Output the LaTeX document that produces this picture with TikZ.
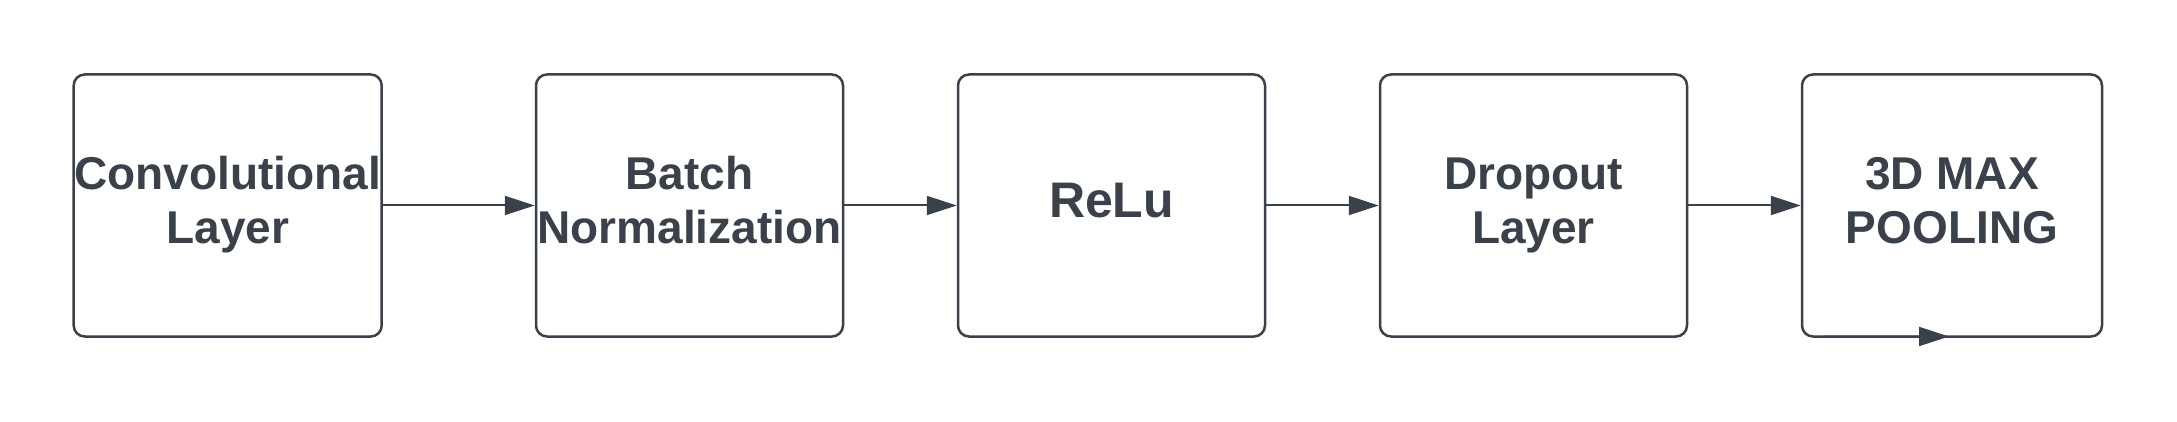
\documentclass[tikz,border=0pt]{standalone}
\usepackage{fontspec}
\setmainfont{Liberation Sans}
\usetikzlibrary{arrows.meta,calc}
\definecolor{ink}{HTML}{3A414A}
\begin{document}
\begin{tikzpicture}[x=1pt,y=-1pt,
  layerbox/.style={draw=ink, line width=2.5pt, rounded corners=11pt, fill=white,
    minimum height=262pt, inner sep=0pt, align=center, text=ink,
    font=\fontsize{46}{54}\selectfont\bfseries},
  flow/.style={draw=ink, line width=2pt, -{Triangle[length=30pt,width=19pt]}}]
\useasboundingbox (0,0) rectangle (2177,422);
\fill[white] (0,0) rectangle (2177,422);
\node[layerbox, minimum width=308pt] (b1) at (227.7,205.5) {\strut Convolutional\\\strut Layer};
\node[layerbox, minimum width=307pt] (b2) at (689.5,205.5) {\strut Batch\\\strut Normalization};
\node[layerbox, minimum width=307pt, font=\fontsize{50}{58}\selectfont\bfseries] (b3) at (1111.5,205.5) {\strut ReLu};
\node[layerbox, minimum width=307pt] (b4) at (1533.5,205.5) {\strut Dropout\\\strut Layer};
\node[layerbox, minimum width=300pt] (b5) at (1952,205.5) {\strut 3D MAX\\\strut POOLING};
\draw[flow] (b1.east) -- (b2.west);
\draw[flow] (b2.east) -- (b3.west);
\draw[flow] (b3.east) -- (b4.west);
\draw[flow] (b4.east) -- (b5.west);
\draw[flow] ([yshift=1.25pt]$(b5.south west)!0.15!(b5.south)$) -- ([xshift=-3pt,yshift=1.25pt]b5.south);
\end{tikzpicture}
\end{document}
